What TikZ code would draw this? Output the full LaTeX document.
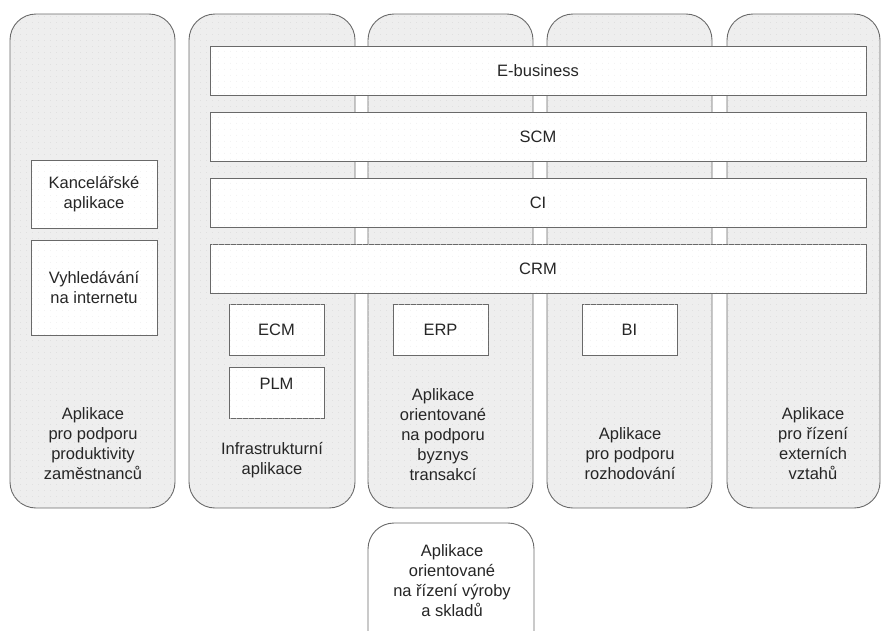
\documentclass[tikz,border=0pt]{standalone}
\usepackage{fontspec}
\setmainfont{Liberation Sans}
\usetikzlibrary{patterns.meta}
\tikzdeclarepattern{name=coldots,type=uncolored,bounding box={(0pt,0pt) and (6pt,6pt)},tile size={(6pt,6pt)},code={\fill (3pt,3pt) circle (0.45pt);}}
\definecolor{colfill}{RGB}{238,238,238}
\definecolor{edge}{RGB}{105,105,105}
\tikzset{
  colbox/.style={draw=edge,line width=0.9pt,fill=colfill,rounded corners=26pt,postaction={pattern={coldots},pattern color=black!16}},
  appbox/.style={draw=edge,line width=0.9pt,fill=white,postaction={pattern={coldots},pattern color=black!8}},
  lbl/.style={font=\fontsize{16.5}{20}\selectfont,align=center,text=black!85,inner sep=0pt},
}
\begin{document}
\begin{tikzpicture}[x=1pt,y=-1pt]
\useasboundingbox (0,0) rectangle (882,630);
\clip (0,0) rectangle (882,630);
% columns
\draw[colbox] (10,14) rectangle (175,508);
\draw[colbox] (189,14) rectangle (355,508);
\draw[colbox] (368,14) rectangle (533,508);
\draw[colbox] (547,14) rectangle (712,508);
\draw[colbox] (727,14) rectangle (880,508);
\draw[draw=edge,line width=0.9pt,fill=white,rounded corners=26pt] (368,523) rectangle (534,660);
% horizontal bars
\node[appbox,lbl,minimum width=656pt,minimum height=49pt] (ebus) at (538,70.5) {E-business};
\node[appbox,lbl,minimum width=656pt,minimum height=49pt] (scm) at (538,137) {SCM};
\node[appbox,lbl,minimum width=656pt,minimum height=49pt] (ci) at (538,203) {CI};
\node[appbox,lbl,minimum width=656pt,minimum height=49pt] (crm) at (538,268.5) {CRM};
% small boxes
\node[appbox,lbl,minimum width=126pt,minimum height=68pt] (kanc) at (94,194) {Kancelářské\\aplikace};
\node[appbox,lbl,minimum width=126pt,minimum height=95pt] (vyhl) at (94,287.5) {Vyhledávání\\na internetu};
\node[appbox,lbl,minimum width=95pt,minimum height=51pt] (ecm) at (276.5,329.5) {ECM};
\node[appbox,minimum width=95pt,minimum height=51pt,inner sep=0pt] (plm) at (276.5,392.5) {};
\node[lbl] (plmt) at (276.5,384) {PLM};
\node[appbox,lbl,minimum width=95pt,minimum height=51pt] (erp) at (440.5,329.5) {ERP};
\node[appbox,lbl,minimum width=95pt,minimum height=51pt] (bi) at (629.5,329.5) {BI};
% column labels
\node[lbl] (l1) at (93,443.5) {Aplikace\\pro podporu\\produktivity\\zaměstnanců};
\node[lbl] (l2) at (272,460) {Infrastrukturní\\aplikace};
\node[lbl] (l3) at (443,434.5) {Aplikace\\orientované\\na podporu\\byznys\\transakcí};
\node[lbl] (l4) at (630,453.5) {Aplikace\\pro podporu\\rozhodování};
\node[lbl] (l5) at (813,443.5) {Aplikace\\pro řízení\\externích\\vztahů};
\node[lbl] (l6) at (452,581) {Aplikace\\orientované\\na řízení výroby\\a skladů};
\end{tikzpicture}
\end{document}
